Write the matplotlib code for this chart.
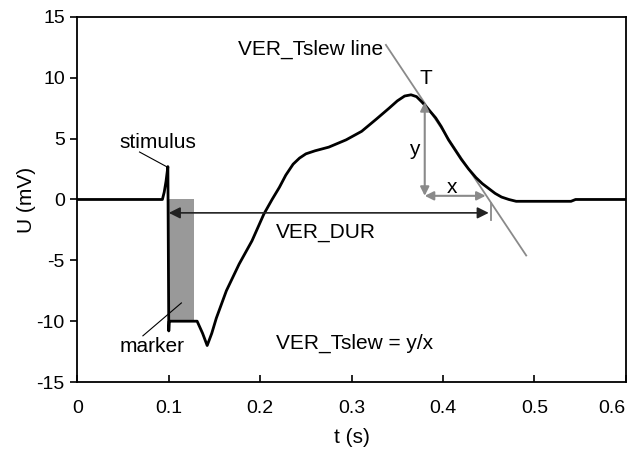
import matplotlib
matplotlib.use("Agg")
import matplotlib.pyplot as plt
from matplotlib.patches import Rectangle

plt.rcParams['font.family'] = ['Liberation Sans', 'DejaVu Sans']
plt.rcParams['axes.unicode_minus'] = False

# VER waveform
t_s = [0.0, 0.093, 0.095, 0.097, 0.099, 0.100, 0.1005, 0.131, 0.137, 0.142,
       0.147, 0.152, 0.163, 0.177, 0.191, 0.204, 0.213, 0.221, 0.228, 0.236,
       0.243, 0.250, 0.260, 0.275, 0.294, 0.311, 0.327, 0.341, 0.350, 0.358,
       0.365, 0.371, 0.377, 0.383, 0.392, 0.398, 0.406, 0.413, 0.420, 0.428,
       0.436, 0.443, 0.450, 0.457, 0.464, 0.472, 0.480, 0.540, 0.545, 0.600]
u_mv = [0.0, 0.0, 0.6, 1.5, 2.7, -10.8, -10.0, -10.0, -11.0, -12.0,
        -11.0, -9.75, -7.5, -5.3, -3.4, -1.2, 0.0, 1.0, 2.0, 2.9,
        3.4, 3.75, 4.0, 4.3, 4.9, 5.6, 6.6, 7.5, 8.1, 8.5,
        8.6, 8.45, 8.0, 7.5, 6.7, 6.0, 4.9, 4.1, 3.3, 2.5,
        1.8, 1.3, 0.9, 0.5, 0.2, 0.0, -0.15, -0.15, 0.0, 0.0]

# marker box, duration and slew construction
marker_t = [0.100, 0.128]
marker_u = [-10.0, 0.0]
dur_t = [0.100, 0.450]
dur_u = -1.1
slew_t = [0.3375, 0.491]
slew_u = [12.7, -4.6]
peak_T = (0.380, 8.0)
x_end = 0.4466
y_end = 0.3

x_ticks = [0, 0.1, 0.2, 0.3, 0.4, 0.5, 0.6]
x_labels = ['0', '0.1', '0.2', '0.3', '0.4', '0.5', '0.6']
y_ticks = [-15, -10, -5, 0, 5, 10, 15]

fig = plt.figure(figsize=(6.29, 4.57), dpi=100)
ax = fig.add_axes([0.123, 0.164, 0.872, 0.799])

gray = '#8a8a8a'

ax.add_patch(Rectangle((marker_t[0], marker_u[0]), marker_t[1] - marker_t[0],
                       marker_u[1] - marker_u[0], facecolor='#999999',
                       edgecolor='none', zorder=1))

ax.plot(t_s, u_mv, color='black', lw=2.0, zorder=3, solid_joinstyle='round')

# slew tangent line
ax.plot(slew_t, slew_u, color=gray, lw=1.3, zorder=2)

# VER_DUR arrow
ax.annotate('', xy=(dur_t[0], dur_u), xytext=(dur_t[1], dur_u),
            arrowprops=dict(arrowstyle='<|-|>', color='#222222', lw=1.2,
                            mutation_scale=17, shrinkA=0, shrinkB=0), zorder=4)
ax.plot([0.453, 0.453], [-0.3, -1.7], color=gray, lw=1.3)

# y and x arrows
ax.annotate('', xy=(peak_T[0], peak_T[1]), xytext=(peak_T[0], y_end),
            arrowprops=dict(arrowstyle='<|-|>', color=gray, lw=1.5,
                            mutation_scale=13, shrinkA=0, shrinkB=0), zorder=4)
ax.annotate('', xy=(peak_T[0], y_end), xytext=(x_end, y_end),
            arrowprops=dict(arrowstyle='<|-|>', color=gray, lw=1.5,
                            mutation_scale=13, shrinkA=0, shrinkB=0), zorder=4)

fs = 15
ax.text(0.335, 12.3, 'VER_Tslew line', fontsize=fs, ha='right', va='center')
ax.text(0.381, 9.9, 'T', fontsize=fs, ha='center', va='center')
ax.text(0.368, 4.1, 'y', fontsize=fs, ha='center', va='center')
ax.text(0.410, 1.0, 'x', fontsize=fs, ha='center', va='center')
ax.text(0.2175, -2.7, 'VER_DUR', fontsize=fs, ha='left', va='center')
ax.text(0.2175, -11.8, 'VER_Tslew = y/x', fontsize=fs, ha='left', va='center')

# labels with pointer lines
ax.text(0.0877, 4.7, 'stimulus', fontsize=fs, ha='center', va='center')
ax.plot([0.068, 0.0975], [3.9, 2.7], color='black', lw=0.8)
ax.text(0.0813, -12.1, 'marker', fontsize=fs, ha='center', va='center')
ax.plot([0.0717, 0.1138], [-11.2, -8.5], color='black', lw=0.8, zorder=4)

ax.set_xlim(0, 0.598)
ax.set_ylim(-15, 15)
ax.set_xticks(x_ticks)
ax.set_xticklabels(x_labels)
ax.set_yticks(y_ticks)
ax.tick_params(axis='x', direction='in', length=5, width=1.2, pad=13, labelsize=14)
ax.tick_params(axis='y', direction='out', length=5, width=1.2, pad=4, labelsize=14)
ax.get_xticklabels()[-1].set_horizontalalignment('right')
for s in ax.spines.values():
    s.set_linewidth(1.3)

ax.set_xlabel('t (s)', fontsize=15, labelpad=8)
ax.set_ylabel('U (mV)', fontsize=15)
ax.yaxis.set_label_coords(-0.075, 0.5)

fig.savefig('out.png', dpi=100)
